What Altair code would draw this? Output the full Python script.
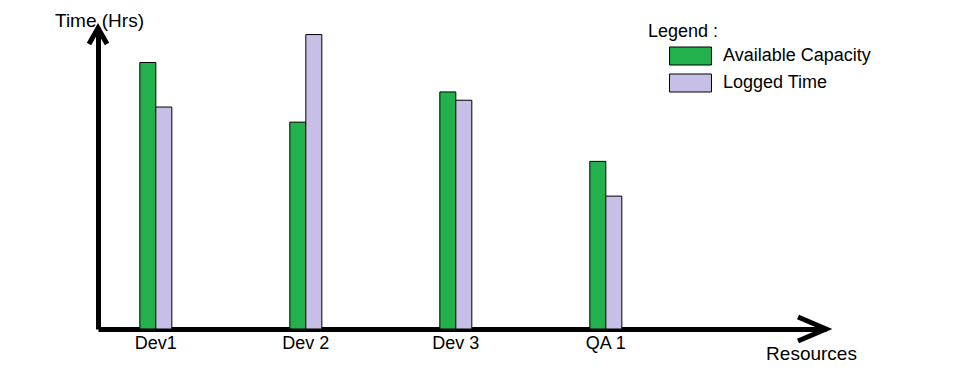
import altair as alt
import pandas as pd

resources = ["Dev1", "Dev 2", "Dev 3", "QA 1"]
series = ["Available Capacity", "Logged Time"]
available = [35.3, 27.4, 31.4, 22.2]
logged = [29.4, 39.0, 30.3, 17.6]
colors = ["#22b14c", "#c8bfe7"]

rows = []
for i, r in enumerate(resources):
    rows.append({"resource": r, "series": series[0], "hours": available[i]})
    rows.append({"resource": r, "series": series[1], "hours": logged[i]})
df = pd.DataFrame(rows)

FONT = "Liberation Sans"
W, H = 728, 302

bars = alt.Chart(df).mark_bar(stroke="black", strokeWidth=1, opacity=1).encode(
    x=alt.X(
        "resource:N",
        sort=resources,
        scale=alt.Scale(paddingInner=0.7867, paddingOuter=0.82, align=0.17),
        axis=alt.Axis(
            title="Resources",
            titleFont=FONT, titleFontSize=19, titleFontWeight="normal", titleColor="black",
            titleX=713, titleY=24, titleAlign="center", titleBaseline="middle", titleAnchor="start",
            labelFont=FONT, labelFontSize=18, labelColor="black", labelAngle=0,
            labelPadding=5, labelBaseline="top",
            ticks=False, tickSize=0, grid=False,
            domainColor="black", domainWidth=5,
        ),
    ),
    xOffset=alt.XOffset("series:N", sort=series,
                        scale=alt.Scale(paddingInner=0, paddingOuter=0)),
    y=alt.Y(
        "hours:Q",
        scale=alt.Scale(domain=[0, 40], nice=False, zero=True),
        axis=alt.Axis(
            title="Time (Hrs)",
            titleFont=FONT, titleFontSize=19, titleFontWeight="normal", titleColor="black",
            titleAngle=0, titleX=1, titleY=-1, titleAlign="center", titleBaseline="alphabetic",
            labels=False, ticks=False, grid=False,
            domainColor="black", domainWidth=5,
        ),
    ),
    color=alt.Color(
        "series:N",
        sort=series,
        scale=alt.Scale(domain=series, range=colors),
        legend=alt.Legend(
            orient="none", legendX=550, legendY=-4.5,
            title="Legend :", titleFont=FONT, titleFontSize=18, titleFontWeight="normal",
            titleColor="black", titlePadding=6, titleBaseline="top",
            symbolType="M-2.33,-1H2.33V1H-2.33Z", symbolSize=324,
            symbolStrokeColor="black", symbolStrokeWidth=1, symbolOffset=33,
            symbolOpacity=1,
            labelFont=FONT, labelFontSize=18, labelColor="black", labelOffset=23,
            rowPadding=4,
        ),
    ),
)

one = alt.Data(values=[{"a": 1}])

yarrow = alt.Chart(one).mark_point(
    shape="M-1,1.78L0,0L1,1.78", filled=False, stroke="black", strokeWidth=5,
    strokeJoin="miter", strokeCap="butt", opacity=1, size=324,
).encode(x=alt.value(0), y=alt.value(1))

xarrow = alt.Chart(one).mark_point(
    shape="M-2.33,-1L0,0L-2.33,1", filled=False, stroke="black", strokeWidth=5,
    strokeJoin="miter", strokeCap="butt", opacity=1, size=576,
).encode(x=alt.value(W), y=alt.value(H))

chart = alt.layer(bars, yarrow, xarrow).properties(
    width=W, height=H,
    background="white",
    autosize=alt.AutoSizeParams(type="none"),
    padding={"left": 90, "top": 19, "right": 110, "bottom": 40},
).configure_view(stroke=None)

chart.save("out.html", embed_options={"renderer": "svg", "actions": False})
